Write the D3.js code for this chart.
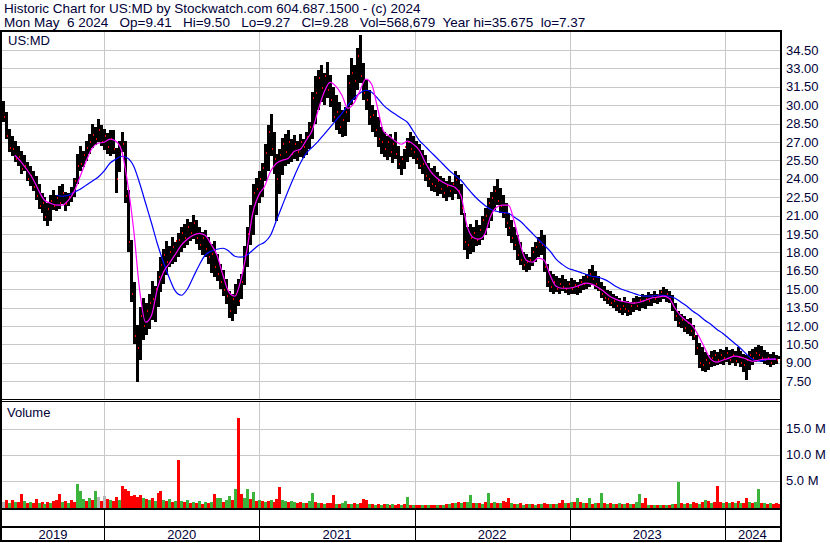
<!DOCTYPE html>
<html><head><meta charset="utf-8">
<script src="https://cdn.jsdelivr.net/npm/d3@7"></script>
<style>
body{margin:0;background:#fff;}
svg text{font-family:"Liberation Sans",Arial,sans-serif;font-size:13px;fill:#000038;}
</style></head><body>
<svg id="c" width="830" height="543"></svg>
<script>
// ---------- data (weekly bars, week starting Monday) ----------
const startDate = "2019-05-06";
const endDate = "2024-05-10";
const headerLine1 = "Historic Chart for US:MD by Stockwatch.com 604.687.1500 - (c) 2024";
const headerLine2 = "Mon May  6 2024   Op=9.41   Hi=9.50   Lo=9.27   Cl=9.28   Vol=568,679  Year hi=35.675  lo=7.37";
const symbol = "US:MD";
const highs = [
30.3,29.4,28.0,27.4,27.0,26.6,26.2,25.9,25.3,25.0,
24.6,24.2,23.5,22.8,22.5,22.0,22.6,23.0,22.6,23.4,
23.5,22.9,22.8,23.3,24.0,26.0,26.6,26.2,27.0,27.6,
28.4,28.2,28.8,28.3,28.0,27.7,27.9,27.9,26.5,27.0,
27.8,27.0,23.0,19.0,15.5,12.0,13.5,14.2,13.8,14.6,
15.6,15.2,16.4,17.6,18.2,18.9,18.5,19.2,18.8,19.5,
20.0,20.3,20.7,20.4,21.0,20.6,20.0,19.6,19.8,19.2,
18.6,18.9,17.8,17.0,16.5,15.8,14.8,14.6,15.4,15.8,
16.2,18.5,20.0,21.8,23.5,24.0,24.6,25.2,26.8,28.3,
29.2,27.8,26.0,26.4,27.3,27.6,27.9,27.2,27.5,27.0,
27.6,27.2,27.8,28.6,31.0,32.3,32.8,33.2,32.6,33.5,
32.4,31.4,30.8,30.2,29.6,29.8,32.4,33.8,33.2,34.6,
35.675,33.4,32.0,31.2,30.0,29.6,29.0,28.2,27.8,27.4,
27.6,27.2,27.8,26.6,25.8,26.4,27.3,27.8,27.4,27.0,
26.8,26.3,25.9,25.2,24.8,25.0,24.5,24.2,24.0,23.8,
24.2,23.7,24.6,24.3,23.5,21.2,20.0,20.3,20.0,20.6,
20.2,20.9,21.6,22.4,22.9,23.4,23.9,23.2,22.6,22.0,
21.2,20.6,20.0,19.4,18.8,18.0,17.8,17.6,18.4,18.8,
19.2,19.8,19.4,17.0,16.4,16.2,16.0,15.9,16.1,15.8,
15.6,15.9,15.7,15.5,15.8,16.0,16.2,16.6,16.9,16.4,
16.0,15.5,15.2,14.9,14.8,14.6,14.4,14.2,14.0,14.3,
14.0,13.9,14.2,14.4,14.3,14.6,14.5,14.7,14.6,14.8,
14.6,14.9,15.1,15.0,14.8,14.5,13.8,13.2,12.9,12.8,
12.5,12.6,12.0,11.2,10.6,10.2,9.8,9.6,9.9,10.0,
9.8,10.1,10.0,10.2,10.0,10.1,9.9,10.2,9.9,9.7,
9.6,9.9,10.1,10.2,10.4,10.3,10.0,9.8,9.7,9.8,
9.6,9.50];
const lows = [
28.6,27.2,26.2,25.8,25.3,25.0,24.4,24.6,23.8,23.4,
23.0,22.3,21.5,21.2,20.6,20.2,20.5,21.4,21.3,21.6,
21.9,21.4,21.8,22.1,22.5,23.6,24.6,24.9,25.4,26.0,
26.5,26.8,27.0,26.6,26.3,26.0,25.8,26.0,22.9,24.5,
26.2,22.0,18.0,14.0,10.5,7.37,9.2,10.8,11.2,11.8,
12.5,12.3,13.5,14.8,15.4,16.2,16.8,17.0,17.2,17.6,
18.0,18.4,18.6,18.9,19.1,18.7,18.2,17.8,17.6,17.0,
16.3,16.0,15.6,15.0,14.4,13.8,12.6,12.4,13.0,13.6,
14.2,15.4,16.8,18.6,19.4,21.0,22.0,22.5,23.8,24.6,
25.8,24.4,20.6,22.8,24.3,25.0,25.2,25.4,25.6,25.4,
25.8,25.7,26.0,26.4,27.2,28.4,29.6,30.2,30.0,30.6,
29.8,28.6,28.0,27.6,27.4,27.5,28.6,30.0,30.4,31.2,
31.8,30.4,29.6,28.4,27.8,27.4,26.6,26.0,25.8,25.5,
25.8,25.3,25.6,24.8,24.3,24.8,25.4,25.8,25.6,25.2,
24.8,24.4,23.8,23.3,23.0,22.9,22.6,22.8,22.4,22.2,
22.5,22.3,22.8,22.4,21.0,18.2,17.4,17.9,18.0,18.5,
18.6,19.0,19.4,20.0,20.6,21.5,21.8,21.2,20.8,20.0,
19.4,18.8,18.2,17.4,17.0,16.6,16.4,16.6,16.9,17.2,
17.6,17.8,16.4,15.2,14.7,14.6,14.7,14.6,14.8,14.7,
14.5,14.6,14.6,14.5,14.7,14.9,15.0,15.2,15.3,15.0,
14.8,14.2,14.0,13.8,13.6,13.5,13.2,13.0,12.9,13.0,
12.8,12.9,13.1,13.3,13.2,13.5,13.4,13.6,13.7,13.9,
13.8,14.0,14.2,14.0,13.9,13.2,12.4,11.9,11.8,11.5,
11.3,11.2,10.8,9.6,8.6,8.3,8.2,8.4,8.6,8.7,
8.8,8.9,8.8,9.0,8.8,9.0,8.7,8.9,8.6,8.3,
7.6,8.4,8.8,9.0,9.1,9.0,8.9,8.8,8.7,8.8,
8.9,9.27];
const closes = [
29.0,27.5,26.5,26.4,25.6,25.8,24.8,25.0,24.0,24.2,
23.3,22.6,21.8,22.0,20.9,21.5,22.2,21.8,22.4,22.0,
22.8,21.9,22.5,22.8,23.8,25.0,25.2,25.9,26.5,27.0,
27.6,27.2,28.0,27.0,27.5,26.6,27.2,26.4,24.0,26.6,
26.8,22.6,18.8,14.6,11.2,10.2,12.8,12.0,13.2,13.9,
14.2,15.0,16.0,17.0,17.8,17.2,18.0,18.4,18.9,19.0,
19.6,19.2,20.1,19.6,20.4,19.2,18.6,19.2,18.3,17.6,
17.9,16.8,16.2,15.6,14.9,14.4,13.2,14.2,14.6,14.0,
15.6,17.8,19.5,20.6,22.8,23.2,24.0,24.9,26.1,27.8,
26.4,25.6,24.0,25.9,26.8,26.2,27.0,26.0,26.8,26.2,
27.0,26.6,27.4,28.2,30.6,31.0,32.2,31.4,32.4,31.2,
30.4,29.0,29.4,28.2,28.8,29.4,31.8,32.6,32.0,34.0,
32.4,31.0,30.4,29.0,29.2,28.0,27.2,27.0,26.4,27.0,
26.2,26.8,26.0,25.2,25.6,26.6,27.0,26.4,26.2,25.6,
25.0,25.2,24.2,24.0,23.6,23.4,23.8,23.2,22.8,23.4,
23.0,23.6,23.9,23.0,21.6,18.8,18.6,19.2,19.6,19.0,
19.8,20.6,21.0,22.0,22.4,23.0,22.2,21.8,21.2,20.4,
20.0,19.2,18.6,17.8,17.4,17.0,17.2,17.4,18.0,18.4,
18.8,18.6,16.8,15.6,15.2,15.6,15.0,15.4,15.2,15.0,
15.4,15.0,15.3,15.2,15.6,15.4,16.0,16.2,15.8,15.4,
15.0,14.6,14.3,14.2,13.9,14.0,13.6,13.4,13.6,13.4,
13.2,13.6,13.9,13.6,14.1,14.0,14.2,14.0,14.4,14.2,
14.5,14.8,14.4,14.6,14.2,13.6,12.8,12.2,12.5,11.8,
12.2,11.6,11.2,10.2,9.0,8.8,9.2,9.0,9.4,9.6,
9.2,9.6,9.4,9.8,9.2,9.6,9.1,9.5,9.0,8.8,
9.2,9.6,9.4,9.8,9.6,9.4,9.2,9.4,9.0,9.3,
9.2,9.28];
// volume in millions of shares
const volumes = [
0.9,1.2,0.7,1.3,0.8,0.9,2.5,1.0,0.6,0.9,
0.7,1.5,0.6,0.8,0.5,0.9,0.7,1.0,1.3,2.4,
0.8,1.1,0.7,1.2,0.8,4.4,3.0,1.4,1.1,1.6,
1.2,3.0,1.9,1.0,2.0,1.4,1.2,1.0,1.8,1.3,
4.0,3.3,3.0,2.0,2.2,1.9,2.3,1.6,1.4,1.2,
1.6,1.1,2.6,2.9,1.3,1.0,1.4,0.9,1.1,8.9,
1.0,0.8,1.2,0.6,0.9,0.7,1.0,0.5,0.8,0.7,
0.9,2.4,1.6,1.7,0.9,1.2,2.0,1.3,3.4,17.0,
2.4,1.6,3.3,1.5,2.7,1.0,1.2,1.0,0.9,1.1,
1.3,0.9,1.4,3.8,1.2,1.1,0.8,1.0,0.9,0.7,
0.8,0.6,0.7,1.1,2.6,0.9,0.7,0.6,0.5,0.6,
0.7,2.2,0.5,0.4,0.6,1.0,0.5,0.4,0.6,0.5,
0.6,1.4,1.2,0.4,0.5,0.3,0.4,0.3,0.5,0.4,
0.3,0.4,0.3,0.5,0.3,0.4,1.8,0.3,0.2,0.3,
0.2,0.2,0.3,0.2,0.2,0.3,0.2,0.2,0.3,0.4,
0.5,0.6,0.7,0.8,0.6,0.9,0.8,2.3,0.7,0.6,
0.7,0.5,0.8,2.6,0.7,0.9,0.6,0.7,1.0,0.8,
1.6,0.6,0.5,0.4,0.6,0.3,0.5,0.4,0.5,0.3,
0.4,0.5,0.6,0.5,0.4,0.5,0.4,0.6,1.3,0.6,
0.7,0.8,0.9,1.6,0.8,0.7,0.6,1.7,0.5,0.6,
0.7,2.6,0.6,0.5,0.6,0.4,0.5,0.6,0.4,0.5,
0.6,0.4,0.5,0.9,2.5,0.6,1.7,0.3,0.2,0.2,
0.2,0.3,0.2,0.2,0.3,0.4,0.5,4.8,0.6,0.5,
0.7,0.4,0.8,0.6,0.5,0.9,1.2,1.0,0.6,0.9,
4.0,0.8,0.7,0.9,0.6,0.8,0.7,1.0,0.6,0.7,
1.6,0.8,0.7,0.9,3.4,0.7,0.6,0.5,0.6,0.5,
0.6,0.57];
// r = down, g = up, n = unchanged
const volDirs = (
"nrgrgrrgrg" + "rrgrgrgrrr" + "grgrrgggrg" + "rgnrnrgrrg" +
"rrrrrrrgrg" + "rgrrgrgrgr" + "grgrgrgrgr" + "grggrggrgr" +
"rggrgrgrgr" + "grrrggrggr" + "rgrggrgrgr" + "rrgrggrgrg" +
"rrrgrgrgrg" + "rgrrgrgrgr" + "rgrgrrgrgr" + "grgrgrggrg" +
"rgrgrgrgrr" + "rgrgrgrgrg" + "rgrrgrgrrg" + "rgrgrgrgrg" +
"rgrgrgrgrg" + "rgrggrrgrg" + "rgrgrgrgrg" + "rgrrgrgrgr" +
"rrgrgrgrgr" + "rgrggrgrgr" + "rr").split("");
// moving averages, sampled every second week
const maShort = [
null,null,25.91,25.42,24.77,24.04,23.06,22.24,22.0,21.84,
21.84,22.24,22.98,24.20,25.42,26.48,26.89,26.97,27.22,27.06,
26.24,23.55,19.80,14.91,12.30,12.87,15.07,16.38,17.11,17.84,
18.58,19.07,19.39,19.55,19.39,18.66,17.76,16.13,14.75,14.42,
15.72,18.09,21.18,22.65,23.38,24.61,25.26,25.50,25.67,26.24,
26.40,27.13,27.95,29.58,31.04,31.86,31.53,30.80,29.74,30.15,
31.13,32.11,31.70,29.74,27.87,27.46,27.06,26.81,27.06,26.81,
26.32,25.34,24.53,24.04,23.71,23.47,23.30,22.65,20.21,19.23,
19.07,19.47,20.94,21.67,21.84,21.84,20.45,18.58,17.35,17.19,
17.52,17.35,16.13,15.23,15.07,15.07,15.15,15.32,15.48,15.40,
15.15,14.83,14.42,14.18,14.01,13.93,13.85,13.93,14.09,14.26,
14.34,14.42,14.26,13.44,12.79,12.38,11.97,11.16,10.18,9.29,
9.04,9.20,9.37,9.53,9.45,9.29,9.12,9.20,9.29,9.29,
9.29];
const maLong = [
null,null,null,null,null,null,null,null,null,22.65,
22.57,22.65,22.90,23.14,23.47,23.79,24.12,24.61,25.26,25.59,
25.83,25.67,25.02,23.63,22.0,20.37,18.66,17.19,15.89,14.83,
14.50,14.99,15.97,16.95,17.76,18.09,18.25,18.33,18.09,17.68,
17.60,17.76,18.17,18.58,18.82,19.39,20.61,21.84,23.06,24.20,
25.26,26.07,26.56,27.05,27.62,28.19,28.76,29.33,29.98,30.55,
30.96,31.21,31.04,30.55,29.98,29.58,29.25,28.92,28.60,27.87,
27.13,26.64,26.15,25.67,25.18,24.69,24.28,23.87,23.30,22.73,
22.24,21.84,21.51,21.35,21.26,21.18,20.86,20.53,20.04,19.55,
19.06,18.58,18.09,17.44,17.03,16.70,16.54,16.38,16.21,16.05,
15.97,15.81,15.56,15.23,14.99,14.83,14.66,14.50,14.42,14.42,
14.50,14.50,14.42,14.26,13.93,13.60,13.19,12.87,12.46,12.14,
11.73,11.40,11.0,10.59,10.18,9.69,9.29,9.12,9.20,9.29,
9.29];
const priceTicks = [7.5,9,10.5,12,13.5,15,16.5,18,19.5,21,22.5,24,25.5,27,28.5,30,31.5,33,34.5];
const volumeTicks = [5,10,15];
const years = [2019,2020,2021,2022,2023,2024];

// ---------- drawing ----------
const svg = d3.select("#c");
const parse = d3.timeParse("%Y-%m-%d");
const start = parse(startDate), end = parse(endDate);
const x = d3.scaleTime().domain([start, end]).range([2, 780]);
const y = d3.scaleLinear().domain([6, 36]).range([399.5, 31.5]);
const yv = d3.scaleLinear().domain([0, 20]).range([506.5, 402.5]);
const weekX = i => x(d3.timeDay.offset(start, 7 * i + 2));
const colors = {r: "#ff0000", g: "#3cb43c", n: "#b4b4b4"};

svg.append("rect").attr("width", 830).attr("height", 543).attr("fill", "#fff");

svg.append("defs").append("clipPath").attr("id", "pclip")
  .append("rect").attr("x", 2).attr("y", 32).attr("width", 778).attr("height", 367);
svg.select("defs").append("clipPath").attr("id", "vclip")
  .append("rect").attr("x", 2).attr("y", 402).attr("width", 778).attr("height", 106);

const grid = "#c8c8c8";
svg.append("g").selectAll("line").data(priceTicks).join("line")
  .attr("x1", 2).attr("x2", 780)
  .attr("y1", d => Math.round(y(d)) + 0.5).attr("y2", d => Math.round(y(d)) + 0.5)
  .attr("stroke", grid).attr("stroke-width", 1);
svg.append("g").selectAll("line").data(volumeTicks).join("line")
  .attr("x1", 2).attr("x2", 780)
  .attr("y1", d => Math.round(yv(d)) + 0.5).attr("y2", d => Math.round(yv(d)) + 0.5)
  .attr("stroke", grid);
const yearStarts = years.slice(1).map(yr => new Date(yr, 0, 1));
const vx = d => Math.round(x(d)) + 0.5;
const vg = svg.append("g");
vg.selectAll(".gp").data(yearStarts).join("line")
  .attr("x1", vx).attr("x2", vx).attr("y1", 32).attr("y2", 399).attr("stroke", grid);
vg.selectAll(".gv").data(yearStarts).join("line")
  .attr("x1", vx).attr("x2", vx).attr("y1", 402).attr("y2", 508).attr("stroke", grid);
vg.selectAll(".gb").data(yearStarts).join("line")
  .attr("x1", vx).attr("x2", vx).attr("y1", 510).attr("y2", 540).attr("stroke", "#000");

// price bars with red close marks
const weeks = d3.range(highs.length);
const pg = svg.append("g").attr("clip-path", "url(#pclip)");
pg.selectAll("rect.bar").data(weeks).join("rect").attr("class", "bar")
  .attr("x", i => Math.round(weekX(i)) - 1).attr("width", 3)
  .attr("y", i => Math.floor(y(highs[i])))
  .attr("height", i => Math.max(1, Math.ceil(y(lows[i]) - y(highs[i]))))
  .attr("fill", "#000");
pg.selectAll("rect.cl").data(weeks).join("rect").attr("class", "cl")
  .attr("x", i => Math.round(weekX(i)) + 1).attr("width", 1)
  .attr("y", i => Math.round(y(closes[i])) - 1).attr("height", 2)
  .attr("fill", "#ff0000");

// moving averages
const maIdx = d3.range(maShort.length);
const line = arr => d3.line()
  .defined(k => arr[k] != null)
  .x(k => weekX(2 * k)).y(k => y(arr[k]))
  .curve(d3.curveMonotoneX);
const gma = svg.append("g").attr("clip-path", "url(#pclip)");
gma.append("path").attr("d", line(maLong)(maIdx)).attr("fill", "none").attr("stroke", "#0000ff").attr("stroke-width", 1.2);
gma.append("path").attr("d", line(maShort)(maIdx)).attr("fill", "none").attr("stroke", "#ff00ff").attr("stroke-width", 1.2);

// volume bars
svg.append("g").attr("clip-path", "url(#vclip)").selectAll("rect").data(weeks).join("rect")
  .attr("x", i => Math.round(weekX(i)) - 1).attr("width", 3)
  .attr("y", i => Math.round(yv(volumes[i])))
  .attr("height", i => 508 - Math.round(yv(volumes[i])))
  .attr("fill", i => colors[volDirs[i]] || colors.r);

// frame
const fr = svg.append("g").attr("fill", "#000");
fr.append("rect").attr("x", 0).attr("y", 30).attr("width", 782).attr("height", 2);
fr.append("rect").attr("x", 0).attr("y", 30).attr("width", 2).attr("height", 512);
fr.append("rect").attr("x", 780).attr("y", 30).attr("width", 2).attr("height", 512);
fr.append("rect").attr("x", 0).attr("y", 399).attr("width", 782).attr("height", 1);
fr.append("rect").attr("x", 0).attr("y", 401).attr("width", 782).attr("height", 1);
fr.append("rect").attr("x", 0).attr("y", 508).attr("width", 782).attr("height", 2);
fr.append("rect").attr("x", 0).attr("y", 526).attr("width", 782).attr("height", 2);
fr.append("rect").attr("x", 0).attr("y", 540).attr("width", 782).attr("height", 2);

// axes
const pa = svg.append("g").attr("transform", "translate(786,0)")
  .call(d3.axisRight(y).tickValues(priceTicks).tickFormat(d3.format(".2f")).tickSize(0).tickPadding(0));
const va = svg.append("g").attr("transform", "translate(786,0)")
  .call(d3.axisRight(yv).tickValues(volumeTicks).tickFormat(d => d.toFixed(1) + " M").tickSize(0).tickPadding(0));
[pa, va].forEach(g => {
  g.select(".domain").remove();
  g.attr("font-family", null).attr("font-size", null);
  g.selectAll("text").attr("fill", null);
});

// year labels
const bounds = [2, ...yearStarts.map(d => x(d)), 780];
svg.append("g").selectAll("text").data(years).join("text")
  .attr("x", (d, i) => (bounds[i] + bounds[i + 1]) / 2).attr("y", 539)
  .attr("text-anchor", "middle").text(d => d);

// titles
svg.append("text").attr("x", 4).attr("y", 13).style("font-size", "13.5px").style("white-space", "pre").text(headerLine1);
svg.append("text").attr("x", 4).attr("y", 27).style("font-size", "13.5px").style("white-space", "pre").text(headerLine2);
svg.append("text").attr("x", 8).attr("y", 45).text(symbol);
svg.append("text").attr("x", 7).attr("y", 417).text("Volume");
</script>
</body></html>
